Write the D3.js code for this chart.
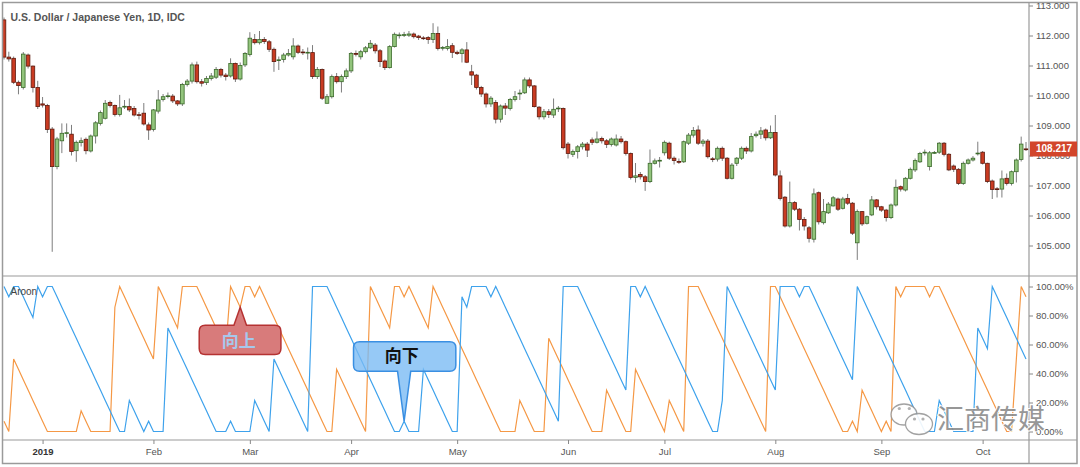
<!DOCTYPE html>
<html><head><meta charset="utf-8">
<script src="https://cdn.jsdelivr.net/npm/d3@7"></script>
<style>html,body{margin:0;padding:0;background:#fff;overflow:hidden}</style>
</head><body><svg id="c" width="1080" height="467"></svg>
<script>
// ---------- DATA (daily USD/JPY bars, index 0 = 20 Dec 2018) ----------
const title = "U.S. Dollar / Japanese Yen, 1D, IDC";
const openP = [
112.52,111.28,111.24,110.44,110.27,111.35,110.98,110.27,109.72,109.67,
108.88,107.63,108.49,108.74,108.71,108.16,108.43,108.54,108.15,108.65,
109.07,109.24,109.77,109.67,109.37,109.62,109.63,109.57,109.36,109.41,
109.02,108.87,109.48,109.87,109.97,109.98,109.82,109.72,110.37,110.48,
111.02,110.46,110.43,110.57,110.61,110.87,110.68,110.65,111.07,110.55,
111.02,111.37,111.87,111.76,111.87,111.79,111.54,111.17,111.20,111.35,
111.29,111.65,111.45,111.44,111.43,110.63,110.87,109.74,109.96,110.63,
110.46,110.63,110.82,111.40,111.29,111.46,111.59,111.68,111.49,111.15,
110.93,111.63,112.00,112.02,112.01,112.05,111.98,111.92,111.93,111.87,
112.07,111.59,111.57,111.66,111.44,111.40,111.52,110.79,110.68,110.27,
110.05,109.72,109.77,109.21,109.65,109.57,109.87,110.06,110.09,110.52,
110.32,109.61,109.29,109.46,109.35,109.56,109.57,108.38,108.04,108.13,
108.29,108.38,108.52,108.44,108.57,108.49,108.37,108.35,108.55,108.46,
108.07,107.27,107.37,107.29,107.13,107.74,107.82,108.09,108.41,107.91,
107.80,107.79,108.41,108.68,108.85,108.41,108.48,107.89,107.88,108.24,
107.91,107.24,107.74,107.91,108.24,108.15,108.66,108.71,108.85,108.59,
108.77,107.32,106.61,105.65,106.43,106.21,105.87,105.59,105.21,106.76,
105.76,106.09,106.32,106.55,106.24,106.57,106.41,105.09,106.13,105.74,
106.02,106.52,106.29,106.18,105.93,106.35,106.96,106.85,107.24,107.52,
107.79,108.10,107.63,108.09,108.11,108.41,108.04,107.65,107.54,107.07,
107.74,107.85,108.06,108.11,107.74,107.15,106.89,106.88,107.24,107.07,
107.46,107.87,108.22];
const highP = [
112.60,111.46,111.30,110.50,111.45,111.40,111.00,110.49,109.95,109.72,
108.95,108.62,109.07,109.07,109.02,108.50,108.60,108.60,108.70,109.15,
109.50,109.85,109.83,109.70,110.02,109.85,109.90,109.65,109.45,109.75,
109.10,109.55,110.18,110.05,110.10,110.05,109.85,110.42,110.55,111.10,
111.13,110.55,110.65,110.75,110.95,110.92,110.75,111.24,111.10,111.10,
111.45,112.11,112.05,112.15,111.95,111.85,111.60,111.30,111.42,111.55,
111.91,111.70,111.55,111.60,111.68,110.95,110.90,110.05,110.70,110.75,
110.70,110.90,111.45,111.50,111.52,111.65,111.85,111.75,111.55,111.20,
111.68,112.10,112.10,112.12,112.15,112.10,112.02,111.98,111.98,112.41,
112.30,111.65,111.88,111.75,111.50,111.58,111.78,111.02,110.72,110.32,
110.10,109.98,109.85,109.70,109.75,109.92,110.15,110.20,110.60,110.60,
110.35,109.65,109.55,109.55,109.90,109.65,109.60,108.45,108.20,108.35,
108.45,108.45,108.60,108.80,108.63,108.55,108.60,108.70,108.65,108.50,
108.10,107.75,107.45,107.35,108.20,107.90,107.95,108.50,108.46,107.97,
107.90,108.50,108.75,108.95,109.00,108.55,108.55,107.95,108.30,108.30,
107.95,107.75,107.95,108.30,108.30,108.75,108.80,108.95,108.90,109.00,
109.35,107.50,106.65,107.13,106.48,106.25,105.95,105.65,106.90,106.80,
106.55,106.45,106.65,106.60,106.62,106.72,106.45,106.20,106.15,106.00,
106.65,106.55,106.32,106.22,106.40,107.20,107.00,107.28,107.60,107.90,
108.12,108.20,108.15,108.15,108.45,108.45,108.08,107.70,107.58,107.80,
107.90,107.98,108.46,108.15,107.76,107.20,106.95,107.50,107.40,107.50,
107.90,108.63,108.45];
const lowP = [
111.20,111.13,110.38,110.04,110.20,110.90,110.10,109.55,109.60,108.75,
104.79,107.54,108.08,108.60,108.00,107.79,108.30,108.04,108.10,108.40,
109.00,109.20,109.60,109.30,109.30,109.55,109.45,109.30,109.20,109.00,
108.52,108.80,109.40,109.80,109.90,109.75,109.65,109.65,110.30,110.40,
110.40,110.30,110.35,110.50,110.55,110.60,110.50,110.60,110.45,110.50,
110.95,111.30,111.70,111.70,111.72,111.45,110.79,110.85,111.10,111.30,
111.20,111.38,111.35,111.20,110.55,110.55,109.85,109.74,109.90,110.40,
110.10,110.55,110.75,111.30,111.20,111.40,111.55,111.40,110.95,110.85,
110.90,111.60,111.90,111.95,111.95,111.90,111.85,111.85,111.72,111.75,
111.50,111.50,111.50,111.25,111.35,111.10,111.08,110.35,110.20,109.95,
109.60,109.62,109.07,109.10,109.35,109.50,109.80,109.85,110.05,110.25,
109.60,109.20,109.20,109.25,109.25,109.45,108.20,107.90,107.95,107.90,
108.20,107.95,108.35,108.40,108.40,108.25,108.30,108.30,108.40,108.00,
107.20,107.10,107.20,106.82,107.08,107.70,107.60,108.00,107.85,107.70,
107.72,107.75,108.35,108.60,108.35,108.30,107.90,107.78,107.80,107.82,
107.20,107.20,107.65,107.85,108.05,108.10,108.60,108.55,108.50,108.55,
107.30,106.50,105.60,105.60,106.15,105.50,105.50,105.10,105.10,105.70,
105.70,106.05,106.30,106.15,106.20,106.35,105.35,104.52,105.65,105.70,
105.98,106.20,106.12,105.80,105.88,106.30,106.80,106.80,107.20,107.45,
107.75,108.00,107.50,108.05,108.05,107.97,107.48,107.45,107.02,107.02,
107.70,107.80,108.00,107.70,107.08,106.55,106.60,106.60,107.00,107.00,
107.10,107.80,108.15];
const closeP = [
111.28,111.22,110.44,110.33,111.38,110.98,110.27,109.63,109.68,108.87,
107.63,108.55,108.74,108.76,108.13,108.44,108.49,108.16,108.65,109.09,
109.43,109.74,109.67,109.37,109.59,109.64,109.52,109.35,109.34,109.05,
108.85,109.52,109.85,109.96,109.99,109.82,109.72,110.37,110.48,111.02,
110.46,110.41,110.57,110.65,110.87,110.68,110.63,111.07,110.55,111.00,
111.40,111.91,111.76,111.87,111.80,111.54,111.13,111.19,111.35,111.40,
111.65,111.44,111.43,111.44,110.63,110.87,109.91,109.96,110.63,110.46,
110.63,110.82,111.40,111.38,111.46,111.59,111.74,111.49,111.13,110.93,
111.63,112.04,112.02,112.03,112.05,111.96,111.93,111.91,111.87,112.07,
111.57,111.60,111.63,111.44,111.40,111.52,111.11,110.68,110.27,110.05,
109.72,109.91,109.21,109.65,109.58,109.87,109.96,110.08,110.52,110.32,
109.63,109.29,109.46,109.37,109.54,109.58,108.26,108.07,108.13,108.29,
108.38,108.18,108.44,108.55,108.49,108.37,108.55,108.55,108.46,108.07,
107.27,107.32,107.29,107.13,107.74,107.82,107.84,108.44,107.91,107.83,
107.78,108.46,108.68,108.83,108.41,108.48,107.96,107.88,108.24,107.91,
107.24,107.68,107.91,108.24,108.15,108.63,108.71,108.82,108.59,108.77,
107.35,106.57,105.65,106.43,106.21,105.87,105.65,105.24,106.72,105.79,
106.13,106.38,106.59,106.21,106.55,106.41,105.41,106.13,105.72,105.96,
106.52,106.29,106.18,105.93,106.35,106.94,106.88,107.24,107.54,107.83,
108.07,108.11,108.09,108.10,108.41,108.04,107.52,107.54,107.07,107.74,
107.85,107.91,108.08,107.74,107.13,106.87,106.87,107.22,107.07,107.46,
107.85,108.38,108.217];
// Aroon(14) readings, in fourteenths (value% = n / 14 * 100)
const aroonUpN = [
1,0,7,6,5,4,3,2,1,0, 0,0,0,0,0,0,2,1,0,0, 0,0,0,12,14,13,12,11,10,9,
8,7,14,13,12,11,10,14,14,14, 14,13,12,11,10,9,8,14,13,12, 14,14,13,14,13,12,11,10,9,8,
7,6,5,4,3,2,1,0,0,6, 5,4,3,2,1,0,14,13,12,11, 10,14,14,13,14,13,12,11,10,14,
13,12,11,10,9,8,7,6,5,4, 3,2,1,0,0,0,0,3,2,1, 0,0,0,9,8,7,6,5,4,3,
2,1,0,0,0,4,3,2,1,0, 0,6,5,4,3,2,1,0,3,2, 1,0,14,14,14,13,12,11,10,9,
8,7,6,5,4,3,2,1,0,14, 14,13,12,11,10,9,8,7,6,5, 4,3,2,1,0,0,1,0,4,3,
2,1,0,1,0,14,13,14,14,14, 14,14,13,14,14,13,12,11,10,9, 8,7,6,5,4,3,2,1,0,0,
7,14,13];
const aroonDownN = [
14,13,14,14,13,12,11,14,13,14, 14,13,12,11,10,9,8,7,6,5, 4,3,2,1,0,0,3,2,1,0,
1,0,0,0,10,9,8,7,6,5, 4,3,2,1,0,0,0,1,0,0, 0,0,3,2,1,0,7,6,5,4,
3,2,1,0,14,14,14,14,13,12, 11,10,9,8,7,6,5,4,3,2, 1,0,0,1,0,0,0,6,5,4,
3,2,1,0,0,13,12,14,14,14, 14,13,14,13,12,11,10,9,8,7, 6,5,4,3,2,1,14,14,14,14,
13,12,11,10,9,8,7,6,5,4, 14,14,13,14,13,12,11,10,9,8, 7,6,5,4,3,2,1,0,0,3,
14,13,12,11,10,9,8,7,6,5, 4,14,14,14,14,13,14,14,13,12, 11,10,9,8,7,6,5,14,13,12,
11,10,9,8,7,6,5,4,3,2, 1,0,0,0,3,2,1,0,0,0, 0,0,10,9,8,14,13,12,11,10,
9,8,7];
const monthTickBars = [8,31,51,72,94,117,137,160,182,203];
const monthTickLabels = ["2019","Feb","Mar","Apr","May","Jun","Jul","Aug","Sep","Oct"];
const priceTicks = [105,106,107,108,109,110,111,112,113];
const aroonTicks = [0,20,40,60,80,100];
const callouts = [
  {text:"向上", series:"up",   bar:49, dir:"up"},
  {text:"向下", series:"down", bar:83, dir:"down"}
];
const watermark = "汇商传媒";
</script>
<script>
const W = 1080, H = 467;
const L = 2.5, R = 1029, T = 2.5, PB = 276, AB = 440, B = 463.5;
const svg = d3.select("#c");
svg.append("rect").attr("width", W).attr("height", H).attr("fill", "#fff");

const n = openP.length;
const x = d3.scaleLinear().domain([0, n - 1]).range([4, 1026]);
const yP = d3.scaleLinear().domain([105, 113]).range([245.5, 5.5]);
const yA = d3.scaleLinear().domain([0, 100]).range([431.5, 286.5]);

const defs = svg.append("defs");
defs.append("clipPath").attr("id", "cp").append("rect").attr("x", L).attr("y", T).attr("width", R - L).attr("height", PB - T);
defs.append("clipPath").attr("id", "ca").append("rect").attr("x", L).attr("y", PB).attr("width", R - L).attr("height", AB - PB);

// candles
const gP = svg.append("g").attr("clip-path", "url(#cp)");
const idx = d3.range(n);
gP.selectAll("line.w").data(idx).join("line")
  .attr("x1", i => x(i)).attr("x2", i => x(i))
  .attr("y1", i => yP(highP[i])).attr("y2", i => yP(lowP[i]))
  .attr("stroke", "#7d7d7d").attr("stroke-width", 1);
gP.selectAll("rect.b").data(idx).join("rect")
  .attr("x", i => x(i) - 1.8).attr("width", 3.6)
  .attr("y", i => yP(Math.max(openP[i], closeP[i])))
  .attr("height", i => Math.max(0.8, yP(Math.min(openP[i], closeP[i])) - yP(Math.max(openP[i], closeP[i]))))
  .attr("fill", i => closeP[i] >= openP[i] ? "#92c47c" : "#c93b22")
  .attr("stroke", i => closeP[i] >= openP[i] ? "#3b6a2a" : "#5e1a0d")
  .attr("stroke-width", 0.8);

// aroon lines
const gA = svg.append("g").attr("clip-path", "url(#ca)");
const line = d3.line().x((d, i) => x(i)).y(d => yA(d / 14 * 100));
gA.append("path").attr("d", line(aroonUpN)).attr("fill", "none").attr("stroke", "#f59845").attr("stroke-width", 1.2);
gA.append("path").attr("d", line(aroonDownN)).attr("fill", "none").attr("stroke", "#3ea2ec").attr("stroke-width", 1.2);

// frame & separators
const fr = svg.append("g").attr("stroke", "#9a9a9a").attr("fill", "none");
fr.append("rect").attr("x", L).attr("y", T).attr("width", 1077 - L).attr("height", B - T).attr("stroke-width", 1.5);
fr.append("line").attr("x1", L).attr("x2", 1077).attr("y1", PB).attr("y2", PB).attr("stroke-width", 1.2);
fr.append("line").attr("x1", L).attr("x2", 1077).attr("y1", AB).attr("y2", AB).attr("stroke-width", 1.2);
fr.append("line").attr("x1", R).attr("x2", R).attr("y1", T).attr("y2", B).attr("stroke-width", 1.2);

// axes
const axFont = "'Liberation Sans', Arial, sans-serif";
function styleAxis(g) {
  g.select(".domain").remove();
  g.selectAll(".tick line").attr("stroke", "#888");
  g.selectAll(".tick text").attr("fill", "#555").style("font-family", axFont).style("font-size", "9.5px");
}
svg.append("g").attr("transform", `translate(${R},0)`)
  .call(d3.axisRight(yP).tickValues(priceTicks).tickFormat(d3.format(".3f")).tickSize(4).tickPadding(3))
  .call(styleAxis);
svg.append("g").attr("transform", `translate(${R},0)`)
  .call(d3.axisRight(yA).tickValues(aroonTicks).tickFormat(d => d.toFixed(2) + "%").tickSize(4).tickPadding(3))
  .call(styleAxis);
const xa = svg.append("g").attr("transform", `translate(0,${AB})`)
  .call(d3.axisBottom(x).tickValues(monthTickBars).tickFormat((d, i) => monthTickLabels[i]).tickSize(4).tickPadding(4))
  .call(styleAxis);
xa.selectAll(".tick text").filter((d, i) => i === 0).attr("fill", "#333").style("font-weight", "bold");

// last price label
const lp = closeP[n - 1];
svg.append("rect").attr("x", R + 1).attr("y", yP(lp) - 7.5).attr("width", 47).attr("height", 15).attr("fill", "#d2452b");
svg.append("text").attr("x", R + 7).attr("y", yP(lp)).attr("dy", "0.35em")
  .attr("fill", "#fff").style("font-family", axFont).style("font-size", "10px").style("font-weight", "bold")
  .text(lp.toFixed(3));

// titles
svg.append("text").attr("x", 10.5).attr("y", 21).text(title)
  .attr("fill", "#555").style("font-family", axFont).style("font-size", "10.5px").style("font-weight", "bold");
svg.append("text").attr("x", 10.5).attr("y", 295).text("Aroon")
  .attr("fill", "#444").style("font-family", axFont).style("font-size", "10px");

// callouts
function calloutPath(ax, ay, dir, bl, br, bt, bb, hw, r) {
  const x0 = ax + bl, x1 = ax + br, y0 = ay + bt, y1 = ay + bb;
  let p = `M${x0 + r},${y0}`;
  if (dir === "up") p += `L${ax - hw},${y0}L${ax},${ay}L${ax + hw},${y0}`;
  p += `L${x1 - r},${y0}Q${x1},${y0} ${x1},${y0 + r}L${x1},${y1 - r}Q${x1},${y1} ${x1 - r},${y1}`;
  if (dir === "down") p += `L${ax + hw},${y1}L${ax},${ay}L${ax - hw},${y1}`;
  p += `L${x0 + r},${y1}Q${x0},${y1} ${x0},${y1 - r}L${x0},${y0 + r}Q${x0},${y0} ${x0 + r},${y0}Z`;
  return p;
}
const cg = svg.append("g");
callouts.forEach(c => {
  const arr = c.series === "up" ? aroonUpN : aroonDownN;
  const ax = x(c.bar), ay = yA(arr[c.bar] / 14 * 100);
  if (c.dir === "up") {
    cg.append("path").attr("d", calloutPath(ax, ay, "up", -41, 40.7, 18, 47.4, 6.3, 6))
      .attr("fill", "#d87b7b").attr("stroke", "#b53232").attr("stroke-width", 1.5);
    cg.append("text").attr("x", ax - 1.5).attr("y", ay + 33.5).attr("dy", "0.35em").attr("text-anchor", "middle")
      .attr("fill", "#a6c8ec").style("font-family", "'Noto Sans CJK SC', sans-serif").style("font-size", "17px").style("font-weight", "bold")
      .text(c.text);
  } else {
    cg.append("path").attr("d", calloutPath(ax, ay, "down", -50.6, 51.7, -79.4, -50, 6.6, 6))
      .attr("fill", "rgba(120,186,244,0.78)").attr("stroke", "#3a8fe2").attr("stroke-width", 1.5);
    cg.append("text").attr("x", ax - 2.3).attr("y", ay - 65).attr("dy", "0.35em").attr("text-anchor", "middle")
      .attr("fill", "#111").style("font-family", "'Noto Sans CJK SC', sans-serif").style("font-size", "17px").style("font-weight", "bold")
      .text(c.text);
  }
});

// watermark
const wm = svg.append("g").attr("opacity", 0.9);
const bub = wm.append("g").attr("stroke", "#999").attr("stroke-width", 1.3).attr("fill", "#fff");
bub.append("ellipse").attr("cx", 904).attr("cy", 414.5).attr("rx", 13).attr("ry", 10.5);
bub.append("ellipse").attr("cx", 919).attr("cy", 424).attr("rx", 13.5).attr("ry", 10.5);
[[899.3,408.5],[909.3,408.5],[914.5,419],[923,419]].forEach(p =>
  wm.append("circle").attr("cx", p[0]).attr("cy", p[1]).attr("r", 1.6).attr("fill", "#aaa"));
wm.append("text").attr("x", 937).attr("y", 429).text(watermark)
  .attr("fill", "#8c8c8c").attr("stroke", "#fff").attr("stroke-width", 2).style("paint-order", "stroke")
  .style("font-family", "'Noto Sans CJK SC', sans-serif").style("font-size", "27px");
</script>
</body></html>
